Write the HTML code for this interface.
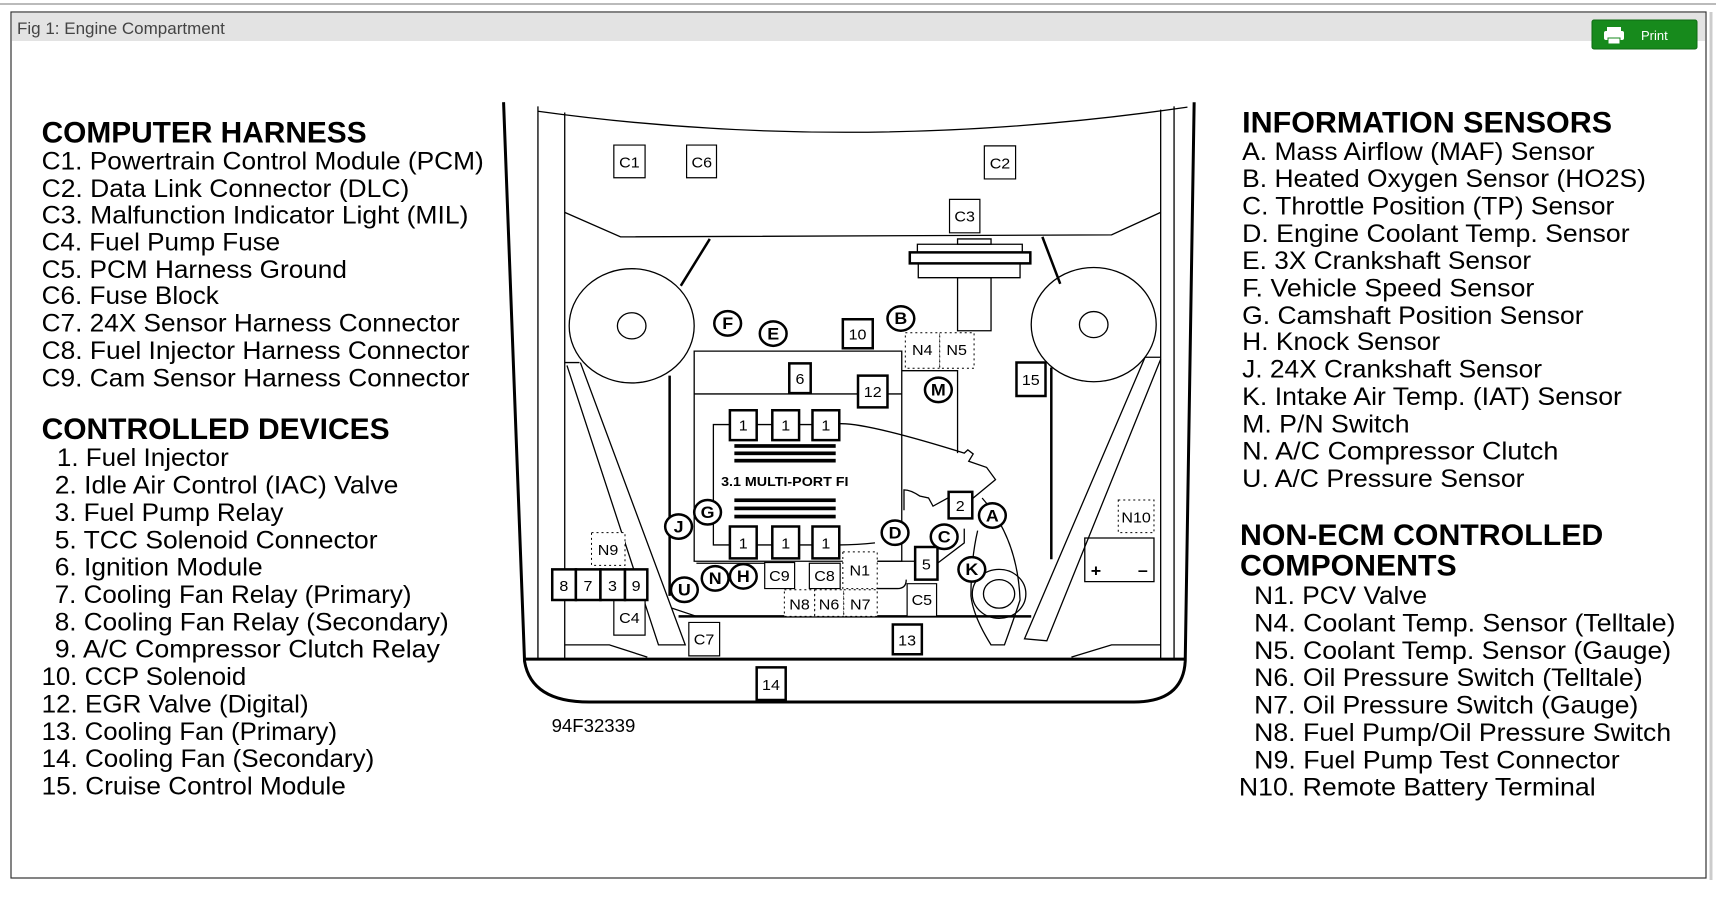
<!DOCTYPE html>
<html><head><meta charset="utf-8"><style>
html,body{margin:0;padding:0;background:#fff;width:1716px;height:898px;overflow:hidden}
svg{display:block}
.t{font-family:"Liberation Sans",sans-serif;font-size:23px;fill:#000}
.h{font-family:"Liberation Sans",sans-serif;font-size:27px;font-weight:bold;fill:#000}
.d text{font-family:"Liberation Sans",sans-serif;font-size:36px;text-anchor:middle;fill:#000}
.d .b{font-weight:bold;font-size:40px}
</style></head><body>
<svg width="1716" height="898" viewBox="0 0 1716 898" xmlns="http://www.w3.org/2000/svg">
<line x1="0" y1="4" x2="1716" y2="4" stroke="#bbb" stroke-width="2"/>
<rect x="11" y="12" width="1695" height="866" fill="#fff" stroke="#333" stroke-width="1.2"/>
<rect x="12" y="13" width="1693" height="28" fill="#e3e3e3"/>
<line x1="1711" y1="12" x2="1711" y2="880" stroke="#ccc" stroke-width="3"/>
<text x="17" y="34" style="font-family:'Liberation Sans',sans-serif;font-size:17px;fill:#444">Fig 1: Engine Compartment</text>
<rect x="1592" y="20" width="105" height="29" rx="2" fill="#178a1c" stroke="#0d6b12"/>
<rect x="1607" y="27" width="14" height="4" fill="#fff"/>
<rect x="1604" y="31" width="20" height="9" rx="2" fill="#fff"/>
<rect x="1608" y="38" width="12" height="6" fill="#fff" stroke="#178a1c"/>
<text x="1641" y="40" style="font-family:'Liberation Sans',sans-serif;font-size:13px;fill:#fff">Print</text>

<g transform="scale(1.0944)">
<text class="h" x="38" y="130" textLength="297" lengthAdjust="spacingAndGlyphs">COMPUTER HARNESS</text>
<text class="t" x="38" y="155" textLength="404" lengthAdjust="spacingAndGlyphs">C1. Powertrain Control Module (PCM)</text>
<text class="t" x="38" y="180" textLength="336" lengthAdjust="spacingAndGlyphs">C2. Data Link Connector (DLC)</text>
<text class="t" x="38" y="204" textLength="390" lengthAdjust="spacingAndGlyphs">C3. Malfunction Indicator Light (MIL)</text>
<text class="t" x="38" y="229" textLength="218" lengthAdjust="spacingAndGlyphs">C4. Fuel Pump Fuse</text>
<text class="t" x="38" y="254" textLength="279" lengthAdjust="spacingAndGlyphs">C5. PCM Harness Ground</text>
<text class="t" x="38" y="278" textLength="162" lengthAdjust="spacingAndGlyphs">C6. Fuse Block</text>
<text class="t" x="38" y="303" textLength="382" lengthAdjust="spacingAndGlyphs">C7. 24X Sensor Harness Connector</text>
<text class="t" x="38" y="328" textLength="391" lengthAdjust="spacingAndGlyphs">C8. Fuel Injector Harness Connector</text>
<text class="t" x="38" y="353" textLength="391" lengthAdjust="spacingAndGlyphs">C9. Cam Sensor Harness Connector</text>
<text class="h" x="38" y="401" textLength="318" lengthAdjust="spacingAndGlyphs">CONTROLLED DEVICES</text>
<text class="t" x="52" y="426" textLength="157" lengthAdjust="spacingAndGlyphs">1. Fuel Injector</text>
<text class="t" x="50" y="451" textLength="314" lengthAdjust="spacingAndGlyphs">2. Idle Air Control (IAC) Valve</text>
<text class="t" x="50" y="476" textLength="209" lengthAdjust="spacingAndGlyphs">3. Fuel Pump Relay</text>
<text class="t" x="50" y="501" textLength="295" lengthAdjust="spacingAndGlyphs">5. TCC Solenoid Connector</text>
<text class="t" x="50" y="526" textLength="190" lengthAdjust="spacingAndGlyphs">6. Ignition Module</text>
<text class="t" x="50" y="551" textLength="326" lengthAdjust="spacingAndGlyphs">7. Cooling Fan Relay (Primary)</text>
<text class="t" x="50" y="576" textLength="360" lengthAdjust="spacingAndGlyphs">8. Cooling Fan Relay (Secondary)</text>
<text class="t" x="50" y="601" textLength="352" lengthAdjust="spacingAndGlyphs">9. A/C Compressor Clutch Relay</text>
<text class="t" x="38" y="626" textLength="187" lengthAdjust="spacingAndGlyphs">10. CCP Solenoid</text>
<text class="t" x="38" y="651" textLength="244" lengthAdjust="spacingAndGlyphs">12. EGR Valve (Digital)</text>
<text class="t" x="38" y="676" textLength="270" lengthAdjust="spacingAndGlyphs">13. Cooling Fan (Primary)</text>
<text class="t" x="38" y="701" textLength="304" lengthAdjust="spacingAndGlyphs">14. Cooling Fan (Secondary)</text>
<text class="t" x="38" y="726" textLength="278" lengthAdjust="spacingAndGlyphs">15. Cruise Control Module</text>

<text class="h" x="1135" y="121" textLength="338" lengthAdjust="spacingAndGlyphs">INFORMATION SENSORS</text>
<text class="t" x="1135" y="146" textLength="322" lengthAdjust="spacingAndGlyphs">A. Mass Airflow (MAF) Sensor</text>
<text class="t" x="1135" y="171" textLength="369" lengthAdjust="spacingAndGlyphs">B. Heated Oxygen Sensor (HO2S)</text>
<text class="t" x="1135" y="196" textLength="340" lengthAdjust="spacingAndGlyphs">C. Throttle Position (TP) Sensor</text>
<text class="t" x="1135" y="221" textLength="354" lengthAdjust="spacingAndGlyphs">D. Engine Coolant Temp. Sensor</text>
<text class="t" x="1135" y="246" textLength="264" lengthAdjust="spacingAndGlyphs">E. 3X Crankshaft Sensor</text>
<text class="t" x="1135" y="271" textLength="267" lengthAdjust="spacingAndGlyphs">F. Vehicle Speed Sensor</text>
<text class="t" x="1135" y="296" textLength="312" lengthAdjust="spacingAndGlyphs">G. Camshaft Position Sensor</text>
<text class="t" x="1135" y="320" textLength="181" lengthAdjust="spacingAndGlyphs">H. Knock Sensor</text>
<text class="t" x="1135" y="345" textLength="274" lengthAdjust="spacingAndGlyphs">J. 24X Crankshaft Sensor</text>
<text class="t" x="1135" y="370" textLength="347" lengthAdjust="spacingAndGlyphs">K. Intake Air Temp. (IAT) Sensor</text>
<text class="t" x="1135" y="395" textLength="153" lengthAdjust="spacingAndGlyphs">M. P/N Switch</text>
<text class="t" x="1135" y="420" textLength="289" lengthAdjust="spacingAndGlyphs">N. A/C Compressor Clutch</text>
<text class="t" x="1135" y="445" textLength="258" lengthAdjust="spacingAndGlyphs">U. A/C Pressure Sensor</text>
<text class="h" x="1133" y="498" textLength="332" lengthAdjust="spacingAndGlyphs">NON-ECM CONTROLLED</text>
<text class="h" x="1133" y="526" textLength="198" lengthAdjust="spacingAndGlyphs">COMPONENTS</text>
<text class="t" x="1146" y="552" textLength="158" lengthAdjust="spacingAndGlyphs">N1. PCV Valve</text>
<text class="t" x="1146" y="577" textLength="385" lengthAdjust="spacingAndGlyphs">N4. Coolant Temp. Sensor (Telltale)</text>
<text class="t" x="1146" y="602" textLength="381" lengthAdjust="spacingAndGlyphs">N5. Coolant Temp. Sensor (Gauge)</text>
<text class="t" x="1146" y="627" textLength="355" lengthAdjust="spacingAndGlyphs">N6. Oil Pressure Switch (Telltale)</text>
<text class="t" x="1146" y="652" textLength="351" lengthAdjust="spacingAndGlyphs">N7. Oil Pressure Switch (Gauge)</text>
<text class="t" x="1146" y="677" textLength="381" lengthAdjust="spacingAndGlyphs">N8. Fuel Pump/Oil Pressure Switch</text>
<text class="t" x="1146" y="702" textLength="334" lengthAdjust="spacingAndGlyphs">N9. Fuel Pump Test Connector</text>
<text class="t" x="1132" y="727" textLength="326" lengthAdjust="spacingAndGlyphs">N10. Remote Battery Terminal</text>
<text x="504" y="669" style="font-family:'Liberation Sans',sans-serif;font-size:17px;fill:#000">94F32339</text>
</g>

<g class="d" transform="translate(500,90) scale(0.4464,0.408)" fill="none" stroke="#000">
<g fill="none" stroke="#000" stroke-width="1.3" vector-effect="non-scaling-stroke">
<path d="M8,30 L55,1400 Q70,1500 200,1500 L1420,1500 Q1530,1500 1535,1400 L1555,30" stroke-width="3" vector-effect="non-scaling-stroke"/>
<path d="M85,40 L85,1395 M1510,40 L1510,1395" vector-effect="non-scaling-stroke"/>
<path d="M85,52 Q800,160 1540,42" vector-effect="non-scaling-stroke"/>
<path d="M145,55 L145,1395 M1480,48 L1480,1395" vector-effect="non-scaling-stroke"/>
<path d="M55,1395 L1535,1395" stroke-width="3" vector-effect="non-scaling-stroke"/>
<path d="M145,300 L270,360 L1370,355 L1480,300" vector-effect="non-scaling-stroke"/>
<path d="M470,365 L405,480 M1215,360 L1255,475" stroke-width="2.5" vector-effect="non-scaling-stroke"/>
<circle cx="295" cy="578" r="140" vector-effect="non-scaling-stroke"/>
<circle cx="295" cy="578" r="32" vector-effect="non-scaling-stroke"/>
<circle cx="1330" cy="575" r="140" vector-effect="non-scaling-stroke"/>
<circle cx="1330" cy="575" r="32" vector-effect="non-scaling-stroke"/>
<path d="M145,668 L178,668 M1445,655 L1480,655" vector-effect="non-scaling-stroke"/>
<path d="M150,675 L355,1360 L415,1360 L180,668" vector-effect="non-scaling-stroke"/>
<path d="M1445,655 L1175,1345 L1225,1350 L1480,660" vector-effect="non-scaling-stroke"/>
<path d="M380,700 L380,1240 M1235,680 L1235,1150" stroke-width="2.5" vector-effect="non-scaling-stroke"/>
<path d="M400,1290 L1190,1290" stroke-width="2.5" vector-effect="non-scaling-stroke"/>
<path d="M145,1360 L245,1360 L330,1390 M1280,1390 L1370,1360 L1480,1360" vector-effect="non-scaling-stroke"/>
<path d="M385,1270 L440,1290" vector-effect="non-scaling-stroke"/>
<rect x="435" y="640" width="465" height="515" vector-effect="non-scaling-stroke"/>
<path d="M435,745 L900,745 M900,688 L1025,688 L1025,890" vector-effect="non-scaling-stroke"/>
<path d="M760,818 Q820,815 1040,890 L1048,882 L1060,892 L1050,910 L1090,925 L1110,955 L1060,1000 L1030,1010 L1020,990 L970,1020 L960,1000 L940,995 Q920,980 905,980 L905,1030 M840,1110 Q800,1115 760,1115" vector-effect="non-scaling-stroke"/>
<path d="M478,1030 L478,820 L515,820 M575,820 L610,820 M670,820 L700,820 M478,1060 L478,1115 L515,1115 M575,1115 L610,1115 M670,1115 L700,1115" vector-effect="non-scaling-stroke"/>
<path d="M845,1155 L930,1155 M845,1222 L890,1222 Q910,1222 910,1200 M980,1160 L1040,1110 L1040,1075 M440,1160 L600,1160" vector-effect="non-scaling-stroke"/>
<path d="M1080,1000 Q1160,1100 1165,1250 Q1150,1300 1130,1360 L1100,1360 Q1060,1290 1055,1240 Q1055,1150 1070,1080" vector-effect="non-scaling-stroke"/>
<circle cx="1118" cy="1235" r="60" vector-effect="non-scaling-stroke"/>
<circle cx="1118" cy="1235" r="35" vector-effect="non-scaling-stroke"/>
<rect x="918" y="398" width="270" height="27" stroke-width="2.5" vector-effect="non-scaling-stroke"/>
<rect x="935" y="378" width="235" height="20" vector-effect="non-scaling-stroke"/>
<rect x="1025" y="365" width="75" height="13" vector-effect="non-scaling-stroke"/>
<rect x="937" y="425" width="228" height="35" vector-effect="non-scaling-stroke"/>
<rect x="1025" y="460" width="75" height="130" vector-effect="non-scaling-stroke"/>
<rect x="1310" y="1098" width="155" height="107" vector-effect="non-scaling-stroke"/>
</g>
<g fill="#000" stroke="none">
<rect x="525" y="868" width="227" height="9"/><rect x="525" y="886" width="227" height="9"/><rect x="525" y="904" width="227" height="9"/>
<rect x="525" y="1001" width="227" height="9"/><rect x="525" y="1021" width="227" height="9"/><rect x="525" y="1041" width="227" height="9"/>
</g>
<g fill="#fff" stroke="#000" stroke-width="1.2">
<rect x="255" y="135" width="70" height="80" vector-effect="non-scaling-stroke"/>
<rect x="418" y="135" width="67" height="80" vector-effect="non-scaling-stroke"/>
<rect x="1085" y="137" width="70" height="81" vector-effect="non-scaling-stroke"/>
<rect x="1007" y="268" width="68" height="82" vector-effect="non-scaling-stroke"/>
<rect x="593" y="1158" width="67" height="64" vector-effect="non-scaling-stroke"/>
<rect x="693" y="1160" width="69" height="62" vector-effect="non-scaling-stroke"/>
<rect x="912" y="1210" width="66" height="80" vector-effect="non-scaling-stroke"/>
<rect x="255" y="1250" width="70" height="86" vector-effect="non-scaling-stroke"/>
<rect x="423" y="1305" width="69" height="82" vector-effect="non-scaling-stroke"/>
</g>
<g fill="#fff" stroke="#000" stroke-width="2.5">
<rect x="515" y="785" width="60" height="73" vector-effect="non-scaling-stroke"/>
<rect x="610" y="785" width="60" height="73" vector-effect="non-scaling-stroke"/>
<rect x="700" y="785" width="60" height="73" vector-effect="non-scaling-stroke"/>
<rect x="515" y="1070" width="60" height="78" vector-effect="non-scaling-stroke"/>
<rect x="610" y="1070" width="60" height="78" vector-effect="non-scaling-stroke"/>
<rect x="700" y="1070" width="60" height="78" vector-effect="non-scaling-stroke"/>
<rect x="768" y="562" width="67" height="71" vector-effect="non-scaling-stroke"/>
<rect x="648" y="670" width="48" height="73" vector-effect="non-scaling-stroke"/>
<rect x="802" y="700" width="66" height="78" vector-effect="non-scaling-stroke"/>
<rect x="1157" y="668" width="65" height="82" vector-effect="non-scaling-stroke"/>
<rect x="1005" y="985" width="53" height="65" vector-effect="non-scaling-stroke"/>
<rect x="930" y="1120" width="50" height="80" vector-effect="non-scaling-stroke"/>
<rect x="880" y="1310" width="65" height="73" vector-effect="non-scaling-stroke"/>
<rect x="575" y="1415" width="65" height="80" vector-effect="non-scaling-stroke"/>
<rect x="117" y="1175" width="53" height="75" vector-effect="non-scaling-stroke"/>
<rect x="170" y="1175" width="55" height="75" vector-effect="non-scaling-stroke"/>
<rect x="225" y="1175" width="55" height="75" vector-effect="non-scaling-stroke"/>
<rect x="280" y="1175" width="50" height="75" vector-effect="non-scaling-stroke"/>
</g>
<g fill="#fff" stroke="#000" stroke-width="1" stroke-dasharray="2 3">
<rect x="908" y="595" width="77" height="87" vector-effect="non-scaling-stroke"/>
<rect x="985" y="595" width="77" height="87" vector-effect="non-scaling-stroke"/>
<rect x="768" y="1132" width="77" height="90" vector-effect="non-scaling-stroke"/>
<rect x="637" y="1225" width="68" height="65" vector-effect="non-scaling-stroke"/>
<rect x="705" y="1225" width="65" height="65" vector-effect="non-scaling-stroke"/>
<rect x="770" y="1225" width="75" height="65" vector-effect="non-scaling-stroke"/>
<rect x="205" y="1085" width="75" height="80" vector-effect="non-scaling-stroke"/>
<rect x="1385" y="1005" width="80" height="80" vector-effect="non-scaling-stroke"/>
</g>
<g fill="#fff" stroke="#000" stroke-width="2.5">
<circle cx="510" cy="572" r="30" vector-effect="non-scaling-stroke"/>
<circle cx="612" cy="597" r="30" vector-effect="non-scaling-stroke"/>
<circle cx="898" cy="560" r="30" vector-effect="non-scaling-stroke"/>
<circle cx="982" cy="735" r="30" vector-effect="non-scaling-stroke"/>
<circle cx="465" cy="1035" r="30" vector-effect="non-scaling-stroke"/>
<circle cx="400" cy="1070" r="30" vector-effect="non-scaling-stroke"/>
<circle cx="885" cy="1085" r="30" vector-effect="non-scaling-stroke"/>
<circle cx="995" cy="1095" r="30" vector-effect="non-scaling-stroke"/>
<circle cx="1103" cy="1043" r="30" vector-effect="non-scaling-stroke"/>
<circle cx="1057" cy="1175" r="30" vector-effect="non-scaling-stroke"/>
<circle cx="482" cy="1197" r="30" vector-effect="non-scaling-stroke"/>
<circle cx="545" cy="1192" r="30" vector-effect="non-scaling-stroke"/>
<circle cx="413" cy="1225" r="30" vector-effect="non-scaling-stroke"/>
</g>
<g stroke="none" fill="#000">
<text x="290" y="190">C1</text><text x="452" y="190">C6</text><text x="1120" y="192">C2</text><text x="1041" y="322">C3</text>
<text x="626" y="1203">C9</text><text x="727" y="1204">C8</text><text x="945" y="1262">C5</text><text x="290" y="1306">C4</text><text x="457" y="1359">C7</text>
<text x="545" y="835">1</text><text x="640" y="835">1</text><text x="730" y="835">1</text>
<text x="545" y="1124">1</text><text x="640" y="1124">1</text><text x="730" y="1124">1</text>
<text x="801" y="612">10</text><text x="672" y="720">6</text><text x="835" y="753">12</text><text x="1189" y="723">15</text>
<text x="1031" y="1032">2</text><text x="955" y="1175">5</text><text x="912" y="1362">13</text><text x="607" y="1470">14</text>
<text x="143" y="1228">8</text><text x="197" y="1228">7</text><text x="252" y="1228">3</text><text x="305" y="1228">9</text>
<text x="946" y="650">N4</text><text x="1023" y="650">N5</text><text x="806" y="1190">N1</text>
<text x="671" y="1273">N8</text><text x="737" y="1273">N6</text><text x="807" y="1273">N7</text>
<text x="242" y="1140">N9</text><text x="1425" y="1060">N10</text>
<text class="b" x="510" y="586">F</text><text class="b" x="612" y="611">E</text><text class="b" x="898" y="574">B</text><text class="b" x="982" y="749">M</text>
<text class="b" x="465" y="1049">G</text><text class="b" x="400" y="1084">J</text><text class="b" x="885" y="1099">D</text><text class="b" x="995" y="1109">C</text>
<text class="b" x="1103" y="1057">A</text><text class="b" x="1057" y="1189">K</text><text class="b" x="482" y="1211">N</text><text class="b" x="545" y="1206">H</text><text class="b" x="413" y="1239">U</text>
<text class="b" x="1335" y="1192">+</text><text class="b" x="1440" y="1190">–</text>
<text class="b" x="638" y="970" style="font-size:32px">3.1 MULTI-PORT FI</text>
</g>
</g>
</svg>
</body></html>
